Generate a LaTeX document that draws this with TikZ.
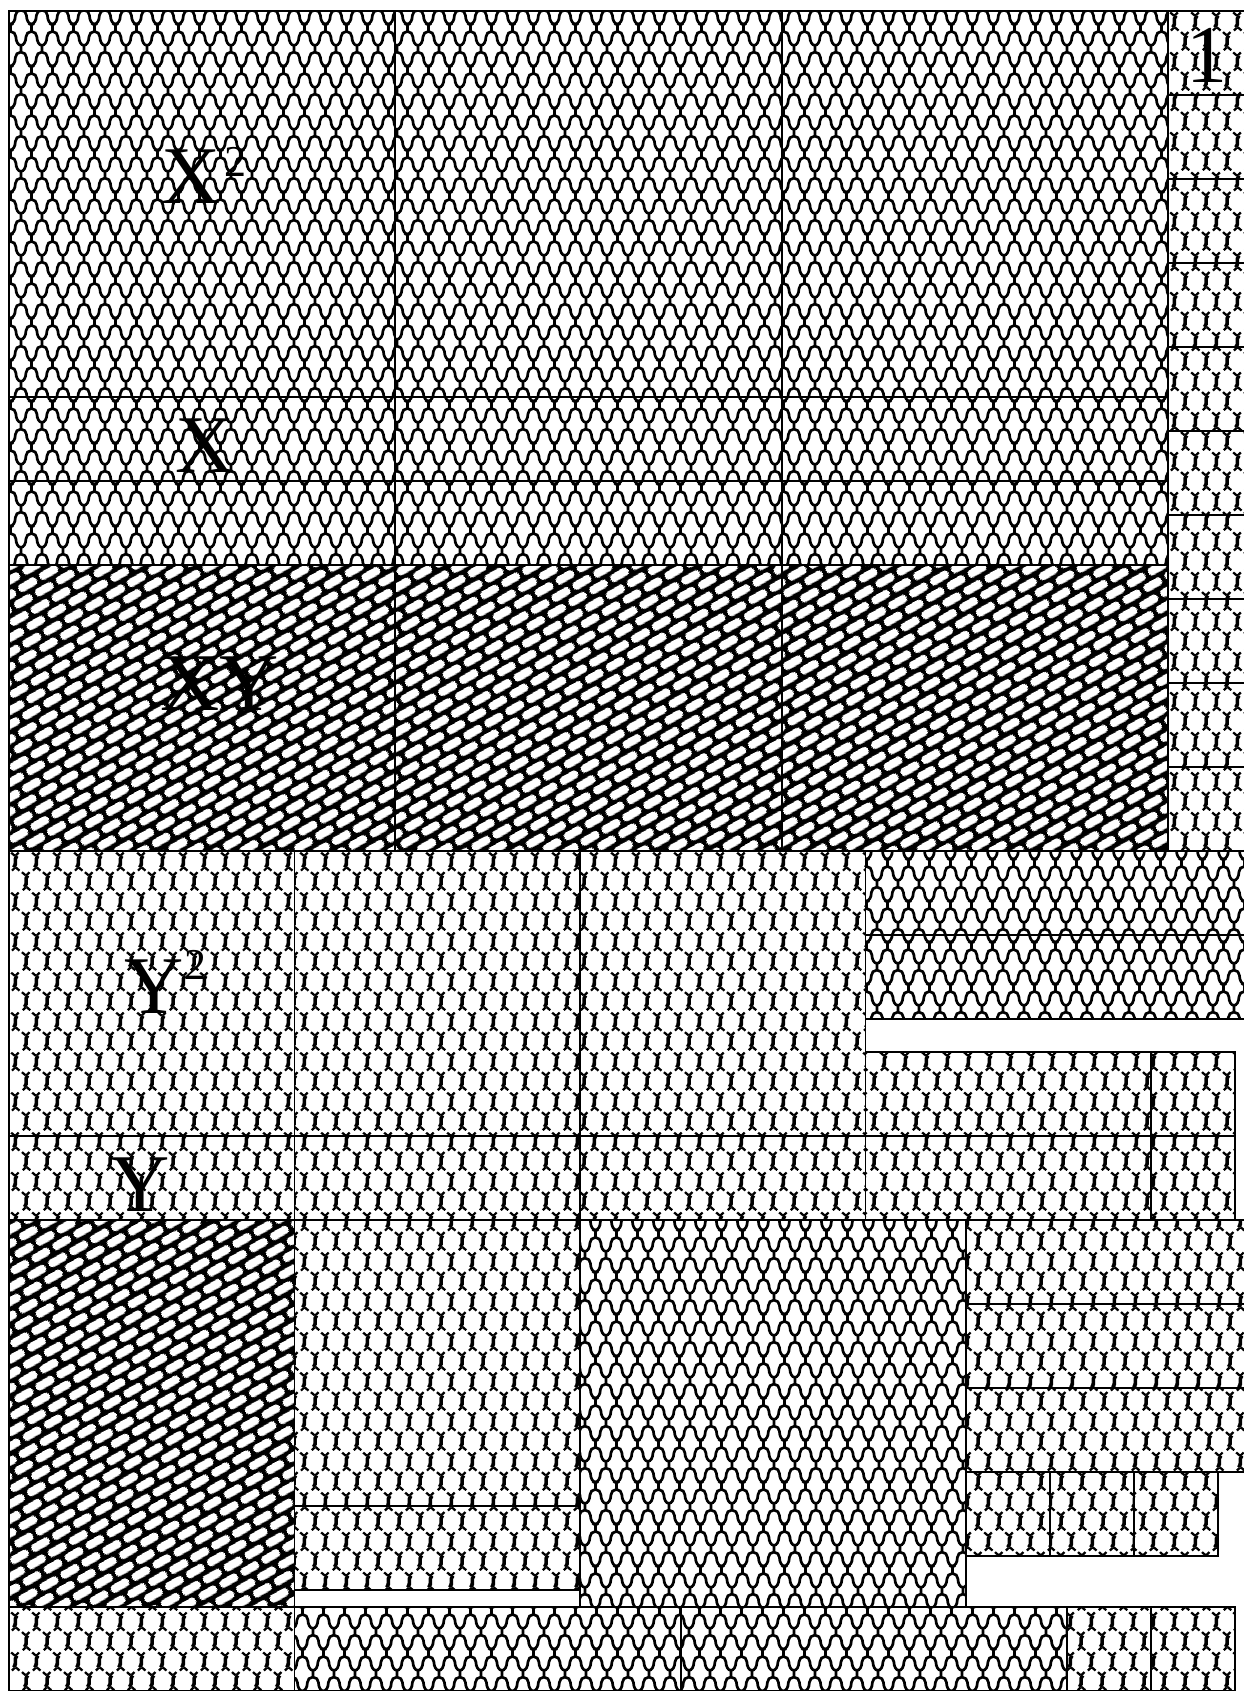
\documentclass[tikz,border=0pt]{standalone}
\usepackage{fontspec}
\setmainfont{Liberation Serif}
\usetikzlibrary{patterns,patterns.meta}

% X pattern: rows of round-topped humps with hooked feet
\tikzdeclarepattern{
  name=xpat,
  type=uncolored,
  bottom left={(0pt,0pt)},
  top right={(20.9pt,41.6pt)},
  tile size={(20.9pt,41.6pt)},
  code={
    \tikzset{x=1pt,y=1pt}
    \draw[line width=2.7pt]
      (0,20.8) .. controls (2.72,20.8) and (4.95,24.63) .. (4.95,29.3)
               arc[start angle=180,end angle=0,radius=5.5]
               .. controls (15.95,24.63) and (18.18,20.8) .. (20.9,20.8)
      (0,14) arc[start angle=90,end angle=0,radius=5.5]
             .. controls (5.5,3.83) and (7.72,0) .. (10.45,0)
             .. controls (13.18,0) and (15.4,3.83) .. (15.4,8.5)
             arc[start angle=180,end angle=90,radius=5.5]
      (0,55.6) arc[start angle=90,end angle=0,radius=5.5]
             .. controls (5.5,45.43) and (7.72,41.6) .. (10.45,41.6)
             .. controls (13.18,41.6) and (15.4,45.43) .. (15.4,50.1)
             arc[start angle=180,end angle=90,radius=5.5]
      (0,20.8) -- (0,14)
      (20.9,20.8) -- (20.9,14)
      (10.45,41.6) -- (10.45,34.8)
      (10.45,0) -- (10.45,-6.8);
  }
}

% Y pattern: chain-link mesh with twisted joints
\tikzdeclarepattern{
  name=ypat,
  type=uncolored,
  bottom left={(0pt,0pt)},
  top right={(20.7pt,40pt)},
  tile size={(20.7pt,40pt)},
  code={
    \tikzset{x=1pt,y=1pt}
    \foreach \cx/\cy in {5.175/10,15.525/30}{
      \begin{scope}[shift={(\cx,\cy)}]
        \draw[line width=2.3pt] (-4.2,9.2) -- (-0.4,5.9)  (3.4,9.2) -- (0.6,6.4)
                                (-3.4,-9.2) -- (-0.6,-6.4) (4.2,-9.2) -- (0.4,-5.9);
        \draw[line width=3.6pt] (1.6,5.8) .. controls (-2,2.5) and (2,-2.5) .. (-1.6,-5.8);
      \end{scope}
    }
  }
}

% XY pattern: white diagonal bricks in a staggered bond (drawn over black)
\tikzdeclarepattern{
  name=xybricks,
  type=uncolored,
  bottom left={(0pt,0pt)},
  top right={(24pt,25pt)},
  tile size={(24pt,25pt)},
  tile transformation={rotate=30},
  code={
    \tikzset{x=1pt,y=1pt}
    \fill[rounded corners=3.5pt] (2,2) rectangle (22,10.5);
    \fill[rounded corners=3.5pt] (-10,14.5) rectangle (10,23);
    \fill[rounded corners=3.5pt] (14,14.5) rectangle (34,23);
  }
}

\newcommand{\mytile}[5]{\path[#5] (#1,#2) rectangle (#3,#4);
  \draw[tileedge] (#1,#2) rectangle (#3,#4);}

\begin{document}
\begin{tikzpicture}[x=1pt,y=-1pt,
  tileedge/.style={draw=black, line width=1.9pt},
  xfill/.style={pattern=xpat, pattern color=black},
  yfill/.style={pattern=ypat, pattern color=black},
  xyfill/.style={fill=black, postaction={pattern=xybricks, pattern color=white}},
  lbl/.style={font=\fontsize{82}{90}\selectfont, inner sep=0pt, anchor=base west, text=black}]
\useasboundingbox (0,0) rectangle (1244,1691);
\fill[white] (0,0) rectangle (1244,1691);
\clip (0,0) rectangle (1244,1691);

% ---- top block: X^2 row
\mytile{9}{11}{395.3}{397.3}{xfill}
\mytile{395.3}{11}{781.6}{397.3}{xfill}
\mytile{781.6}{11}{1167.9}{397.3}{xfill}
% X rows
\foreach \ya/\yb in {397.3/481.3, 481.3/565.3}{
  \mytile{9}{\ya}{395.3}{\yb}{xfill}
  \mytile{395.3}{\ya}{781.6}{\yb}{xfill}
  \mytile{781.6}{\ya}{1167.9}{\yb}{xfill}
}
% XY row
\mytile{9}{565.3}{395.3}{850.8}{xyfill}
\mytile{395.3}{565.3}{781.6}{850.8}{xyfill}
\mytile{781.6}{565.3}{1167.9}{850.8}{xyfill}
% unit column
\foreach \k in {0,...,9}{
  \mytile{1167.9}{11+84*\k}{1251.9}{95+84*\k}{yfill}
}

% ---- Y^2 row
\mytile{9}{850.8}{294.5}{1136.3}{yfill}
\mytile{294.5}{850.8}{580}{1136.3}{yfill}
\mytile{580}{850.8}{865.5}{1136.3}{yfill}
\mytile{865.5}{850.8}{1251.8}{934.8}{xfill}
\mytile{865.5}{934.8}{1251.8}{1018.8}{xfill}
\mytile{865.5}{1052.3}{1151}{1136.3}{yfill}
\mytile{1151}{1052.3}{1235}{1136.3}{yfill}

% ---- Y row
\mytile{9}{1136.3}{294.5}{1220.3}{yfill}
\mytile{294.5}{1136.3}{580}{1220.3}{yfill}
\mytile{580}{1136.3}{865.5}{1220.3}{yfill}
\mytile{865.5}{1136.3}{1151}{1220.3}{yfill}
\mytile{1151}{1136.3}{1235}{1220.3}{yfill}

% ---- lower block
\mytile{9}{1220.3}{294.5}{1606.6}{xyfill}
\mytile{294.5}{1220.3}{580}{1505.8}{yfill}
\mytile{294.5}{1505.8}{580}{1589.8}{yfill}
\mytile{580}{1220.3}{966.3}{1606.6}{xfill}
\mytile{966.3}{1220.3}{1251.8}{1304.3}{yfill}
\mytile{966.3}{1304.3}{1251.8}{1388.3}{yfill}
\mytile{966.3}{1388.3}{1251.8}{1472.3}{yfill}
\mytile{966.3}{1472.3}{1050.3}{1556.3}{yfill}
\mytile{1050.3}{1472.3}{1134.3}{1556.3}{yfill}
\mytile{1134.3}{1472.3}{1218.3}{1556.3}{yfill}

% ---- bottom row
\mytile{9}{1606.6}{294.5}{1690.6}{yfill}
\mytile{294.5}{1606.6}{680.8}{1690.6}{xfill}
\mytile{680.8}{1606.6}{1067.1}{1690.6}{xfill}
\mytile{1067.1}{1606.6}{1151.1}{1690.6}{yfill}
\mytile{1151.1}{1606.6}{1235.1}{1690.6}{yfill}

% ---- labels
\node[lbl] (lxx) at (161,203) {X\kern4pt\raisebox{27pt}{\fontsize{44}{44}\selectfont 2}};
\node[lbl] (lx) at (175,472) {X};
\node[lbl] (lxy) at (160,710) {XY};
\node[lbl] (lyy) at (124,1013) {Y\kern1pt\raisebox{34pt}{\fontsize{44}{44}\selectfont 2}};
\node[lbl] (ly) at (110,1211) {Y};
\node[lbl] (lone) at (1186,83) {1};
\end{tikzpicture}
\end{document}
